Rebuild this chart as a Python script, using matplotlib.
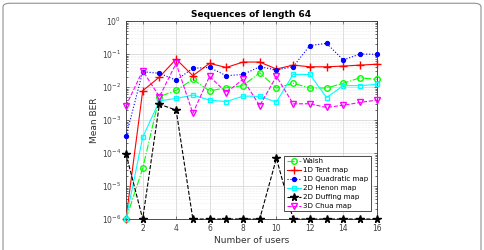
import numpy as np
import matplotlib.pyplot as plt
from matplotlib.patches import FancyBboxPatch

users = list(range(1, 17))
walsh = [1e-6, 3.4e-5, 0.0051, 0.0079, 0.017, 0.0076, 0.0095, 0.011, 0.027, 0.0093, 0.013, 0.0093, 0.0093, 0.013, 0.019, 0.017]
tent = [1e-6, 0.0077, 0.020, 0.070, 0.022, 0.052, 0.039, 0.057, 0.057, 0.035, 0.046, 0.041, 0.041, 0.043, 0.046, 0.049]
quadratic = [3.2e-4, 0.029, 0.026, 0.016, 0.037, 0.039, 0.022, 0.024, 0.041, 0.033, 0.041, 0.18, 0.21, 0.066, 0.10, 0.098]
henon = [1e-6, 3.0e-4, 0.0038, 0.0045, 0.0057, 0.0040, 0.0036, 0.0053, 0.0052, 0.0035, 0.024, 0.024, 0.0048, 0.011, 0.011, 0.012]
duffing = [9.5e-5, 1e-6, 0.0030, 0.0020, 1e-6, 1e-6, 1e-6, 1e-6, 1e-6, 6.9e-5, 1e-6, 1e-6, 1e-6, 1e-6, 1e-6, 1e-6]
chua = [0.0027, 0.031, 0.0051, 0.052, 0.0016, 0.021, 0.0068, 0.017, 0.0027, 0.021, 0.0031, 0.0031, 0.0024, 0.0028, 0.0034, 0.0040]

fig = plt.figure(figsize=(4.84, 2.5), dpi=100)
ax = fig.add_axes([0.2603, 0.124, 0.518, 0.792])

ms = 4
kw = dict(lw=0.8, clip_on=False, zorder=3)
ax.plot(users, walsh, '-.', color='#00ff00', marker='o', mfc='none', ms=ms, label='Walsh', **kw)
ax.plot(users, tent, '-', color='#ff0000', marker='+', ms=ms + 1.5, mew=1, label='1D Tent map', **kw)
ax.plot(users, quadratic, ':', color='#0000ff', marker='o', ms=2.8, label='1D Quadratic map', **kw)
ax.plot(users, henon, '-', color='#00ffff', marker='s', mfc='none', ms=3.2, label='2D Henon map', **kw)
ax.plot(users, duffing, '--', color='black', marker='*', ms=ms + 1.5, label='2D Duffing map', **kw)
ax.plot(users, chua, '--', color='#ff00ff', marker='v', mfc='none', ms=ms, label='3D Chua map', **kw)

ax.set_yscale('log')
ax.set_ylim(1e-6, 1)
ax.set_xlim(1, 16)
ax.set_xticks([2, 4, 6, 8, 10, 12, 14, 16])
ax.set_yticks([1e-6, 1e-5, 1e-4, 1e-3, 1e-2, 1e-1, 1e0])
ax.grid(True, which='major', color='#d0d0d0', lw=0.5, ls='-')
ax.grid(True, which='minor', axis='y', color='#e0e0e0', lw=0.4, ls=':')
ax.tick_params(labelsize=5.5, direction='in', length=2.5, width=0.5, colors='#404040', top=True, right=True)
ax.tick_params(which='minor', direction='in', length=1.5, width=0.4, top=True, right=True)
for s in ax.spines.values():
    s.set_linewidth(0.6)
    s.set_color('#303030')

ax.set_title('Sequences of length 64', fontsize=6.5, fontweight='bold', pad=3)
ax.set_xlabel('Number of users', fontsize=6.5, color='#303030', labelpad=2)
ax.set_ylabel('Mean BER', fontsize=6.5, color='#303030', labelpad=2)

leg = ax.legend(loc='lower right', fontsize=5.1, handlelength=2.0, handletextpad=0.3,
                borderpad=0.35, labelspacing=0.42, framealpha=1, fancybox=False,
                bbox_to_anchor=(0.99, 0.02))
leg.get_frame().set_edgecolor('#303030')
leg.get_frame().set_linewidth(0.6)
leg.set_zorder(5)

border = FancyBboxPatch((3 / 484, -0.1), 478 / 484, 1.087, transform=fig.transFigure,
                        boxstyle='round,pad=0,rounding_size=0.015', fill=False,
                        ec='#909090', lw=0.8)
fig.patches.append(border)

fig.savefig('out.png', dpi=100)
